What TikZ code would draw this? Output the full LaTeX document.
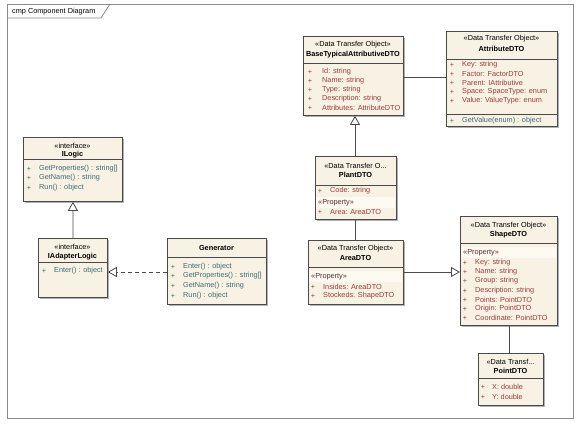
\documentclass[tikz,border=0pt]{standalone}
\usepackage{fontspec}
\setmainfont{Liberation Sans}
\usetikzlibrary{arrows.meta,shadows}
\definecolor{umlfill}{HTML}{F8F2E4}
\definecolor{umlband}{HTML}{FDFAF2}
\definecolor{attrred}{HTML}{9B3B3B}
\definecolor{propred}{HTML}{5E2A2A}
\definecolor{opteal}{HTML}{3D6B72}
\definecolor{umlline}{HTML}{4A4A4A}
\definecolor{framegray}{HTML}{8A8A8A}
\tikzset{
 cls/.style={draw=umlline, fill=umlfill, line width=0.8bp, anchor=north west, inner sep=0pt,
   drop shadow={shadow xshift=1.6bp,shadow yshift=-1.6bp,opacity=0.3,fill=black}},
 txt/.style={font=\fontsize{7.3bp}{8.5bp}\selectfont, inner sep=0pt},
 stereo/.style={txt},
 cname/.style={txt, font=\fontsize{7.3bp}{8.5bp}\selectfont\bfseries},
 plus/.style={txt},
 rowtxt/.style={txt, anchor=west},
 divider/.style={draw=umlline, line width=0.6bp},
 band/.style={fill=umlband},
 conn/.style={draw=umlline, line width=0.8bp},
 gen/.style={conn, -{Triangle[length=9bp,width=10bp,fill=white]}},
 real/.style={gen, dash pattern=on 4bp off 3bp},
}
\newcommand{\umlrow}[6]{%
  \node[plus,text=#5] (#1-p) at (#2,#4) {+};
  \node[rowtxt,text=#5] (#1) at (#3,#4) {#6};}
\begin{document}
\begin{tikzpicture}[x=1bp,y=-1bp]
\fill[white] (0,0) rectangle (584,429);
\useasboundingbox (0,0) rectangle (584,429);
% frame
\draw[framegray, line width=0.8bp] (7,4) rectangle (573,418);
\draw[framegray, line width=0.8bp] (7,18) -- (101,18) -- (110,4);
\node[txt, anchor=west] (title) at (12,11.5) {cmp Component Diagram};

% ---------- BaseTypicalAttributiveDTO
\node[cls, minimum width=100bp, minimum height=79bp] (base) at (303,36) {};
\draw[divider] (303,63) -- (403,63);
\node[stereo] (base-s) at (353,45) {«Data Transfer Object»};
\node[cname] (base-n) at (353,55) {BaseTypicalAttributiveDTO};
\umlrow{base-a1}{310}{322}{72}{attrred}{Id: string}
\umlrow{base-a2}{310}{322}{81}{attrred}{Name: string}
\umlrow{base-a3}{310}{322}{90}{attrred}{Type: string}
\umlrow{base-a4}{310}{322}{99}{attrred}{Description: string}
\umlrow{base-a5}{310}{322}{108}{attrred}{Attributes: AttributeDTO}

% ---------- AttributeDTO
\node[cls, minimum width=111bp, minimum height=95bp] (attr) at (446,31) {};
\draw[divider] (446,59) -- (557,59);
\draw[divider] (446,114) -- (557,114);
\node[stereo] (attr-s) at (501.5,39) {«Data Transfer Object»};
\node[cname] (attr-n) at (501.5,49) {AttributeDTO};
\umlrow{attr-a1}{452}{462}{65}{attrred}{Key: string}
\umlrow{attr-a2}{452}{462}{74}{attrred}{Factor: FactorDTO}
\umlrow{attr-a3}{452}{462}{83}{attrred}{Parent: IAttributive}
\umlrow{attr-a4}{452}{462}{92}{attrred}{Space: SpaceType: enum}
\umlrow{attr-a5}{452}{462}{101}{attrred}{Value: ValueType: enum}
\umlrow{attr-o1}{452}{462}{121}{opteal}{GetValue(enum) : object}

% ---------- PlantDTO
\node[cls, minimum width=81bp, minimum height=63bp] (plant) at (315,156) {};
\draw[divider] (315,185) -- (396,185);
\fill[band] (315.6,197) rectangle (395.4,208);
\node[stereo] (plant-s) at (355.5,166) {«Data Transfer O...};
\node[cname] (plant-n) at (355.5,175) {PlantDTO};
\umlrow{plant-a1}{320}{330}{191}{attrred}{Code: string}
\node[rowtxt, text=propred] (plant-prop) at (318,203) {«Property»};
\umlrow{plant-a2}{320}{330}{212}{attrred}{Area: AreaDTO}

% ---------- AreaDTO
\node[cls, minimum width=95bp, minimum height=64bp] (area) at (308,240) {};
\draw[divider] (308,267) -- (403,267);
\fill[band] (308.6,271) rectangle (402.4,282);
\node[stereo] (area-s) at (355.5,249) {«Data Transfer Object»};
\node[cname] (area-n) at (355.5,258) {AreaDTO};
\node[rowtxt, text=propred] (area-prop) at (311,277) {«Property»};
\umlrow{area-a1}{313}{323}{287}{attrred}{Insides: AreaDTO}
\umlrow{area-a2}{313}{323}{296}{attrred}{Stockeds: ShapeDTO}

% ---------- ShapeDTO
\node[cls, minimum width=97bp, minimum height=109bp] (shape) at (460,216) {};
\draw[divider] (460,243) -- (557,243);
\fill[band] (460.6,247) rectangle (556.4,258);
\node[stereo] (shape-s) at (508.5,226) {«Data Transfer Object»};
\node[cname] (shape-n) at (508.5,235) {ShapeDTO};
\node[rowtxt, text=propred] (shape-prop) at (463,253) {«Property»};
\umlrow{shape-a1}{465}{475}{263}{attrred}{Key: string}
\umlrow{shape-a2}{465}{475}{272}{attrred}{Name: string}
\umlrow{shape-a3}{465}{475}{281}{attrred}{Group: string}
\umlrow{shape-a4}{465}{475}{291}{attrred}{Description: string}
\umlrow{shape-a5}{465}{475}{300}{attrred}{Points: PointDTO}
\umlrow{shape-a6}{465}{475}{309}{attrred}{Origin: PointDTO}
\umlrow{shape-a7}{465}{475}{318}{attrred}{Coordinate: PointDTO}

% ---------- PointDTO
\node[cls, minimum width=65bp, minimum height=52bp] (point) at (478,353) {};
\draw[divider] (478,378) -- (543,378);
\node[stereo] (point-s) at (510.5,362) {«Data Transf...};
\node[cname] (point-n) at (510.5,371) {PointDTO};
\umlrow{point-a1}{483}{492}{387}{attrred}{X: double}
\umlrow{point-a2}{483}{492}{397}{attrred}{Y: double}

% ---------- ILogic
\node[cls, minimum width=99bp, minimum height=64bp] (ilogic) at (23,137) {};
\draw[divider] (23,159) -- (122,159);
\node[stereo] (ilogic-s) at (72.5,146) {«interface»};
\node[cname] (ilogic-n) at (72.5,155) {ILogic};
\umlrow{ilogic-o1}{29}{39}{169}{opteal}{GetProperties() : string[]}
\umlrow{ilogic-o2}{29}{39}{178}{opteal}{GetName() : string}
\umlrow{ilogic-o3}{29}{39}{188}{opteal}{Run() : object}

% ---------- IAdapterLogic
\node[cls, minimum width=69bp, minimum height=59bp] (iadapt) at (38,238) {};
\draw[divider] (38,262) -- (107,262);
\node[stereo] (iadapt-s) at (72.5,247) {«interface»};
\node[cname] (iadapt-n) at (72.5,257) {IAdapterLogic};
\umlrow{iadapt-o1}{44}{54}{271}{opteal}{Enter() : object}

% ---------- Generator
\node[cls, minimum width=99bp, minimum height=66bp] (genr) at (167,238) {};
\draw[divider] (167,257) -- (266,257);
\node[cname] (genr-n) at (216.5,248) {Generator};
\umlrow{genr-o1}{173}{183}{267}{opteal}{Enter() : object}
\umlrow{genr-o2}{173}{183}{276}{opteal}{GetProperties() : string[]}
\umlrow{genr-o3}{173}{183}{286}{opteal}{GetName() : string}
\umlrow{genr-o4}{173}{183}{296}{opteal}{Run() : object}

% ---------- connectors
\coordinate (assocy) at (420,77);
\draw[conn] (base.east |- assocy) -- (attr.west |- assocy);
\draw[gen] (plant.north -| 355,0) -- (base.south -| 355,0);
\draw[conn] (plant.south -| 355,0) -- (area.north -| 355,0);
\draw[gen] (area.east |- 0,272) -- (shape.west |- 0,272);
\draw[conn] (shape.south -| 509,0) -- (point.north -| 509,0);
\draw[gen] (iadapt.north) -- (ilogic.south);
\draw[real] (genr.west |- 0,272) -- (iadapt.east |- 0,272);
\end{tikzpicture}
\end{document}
